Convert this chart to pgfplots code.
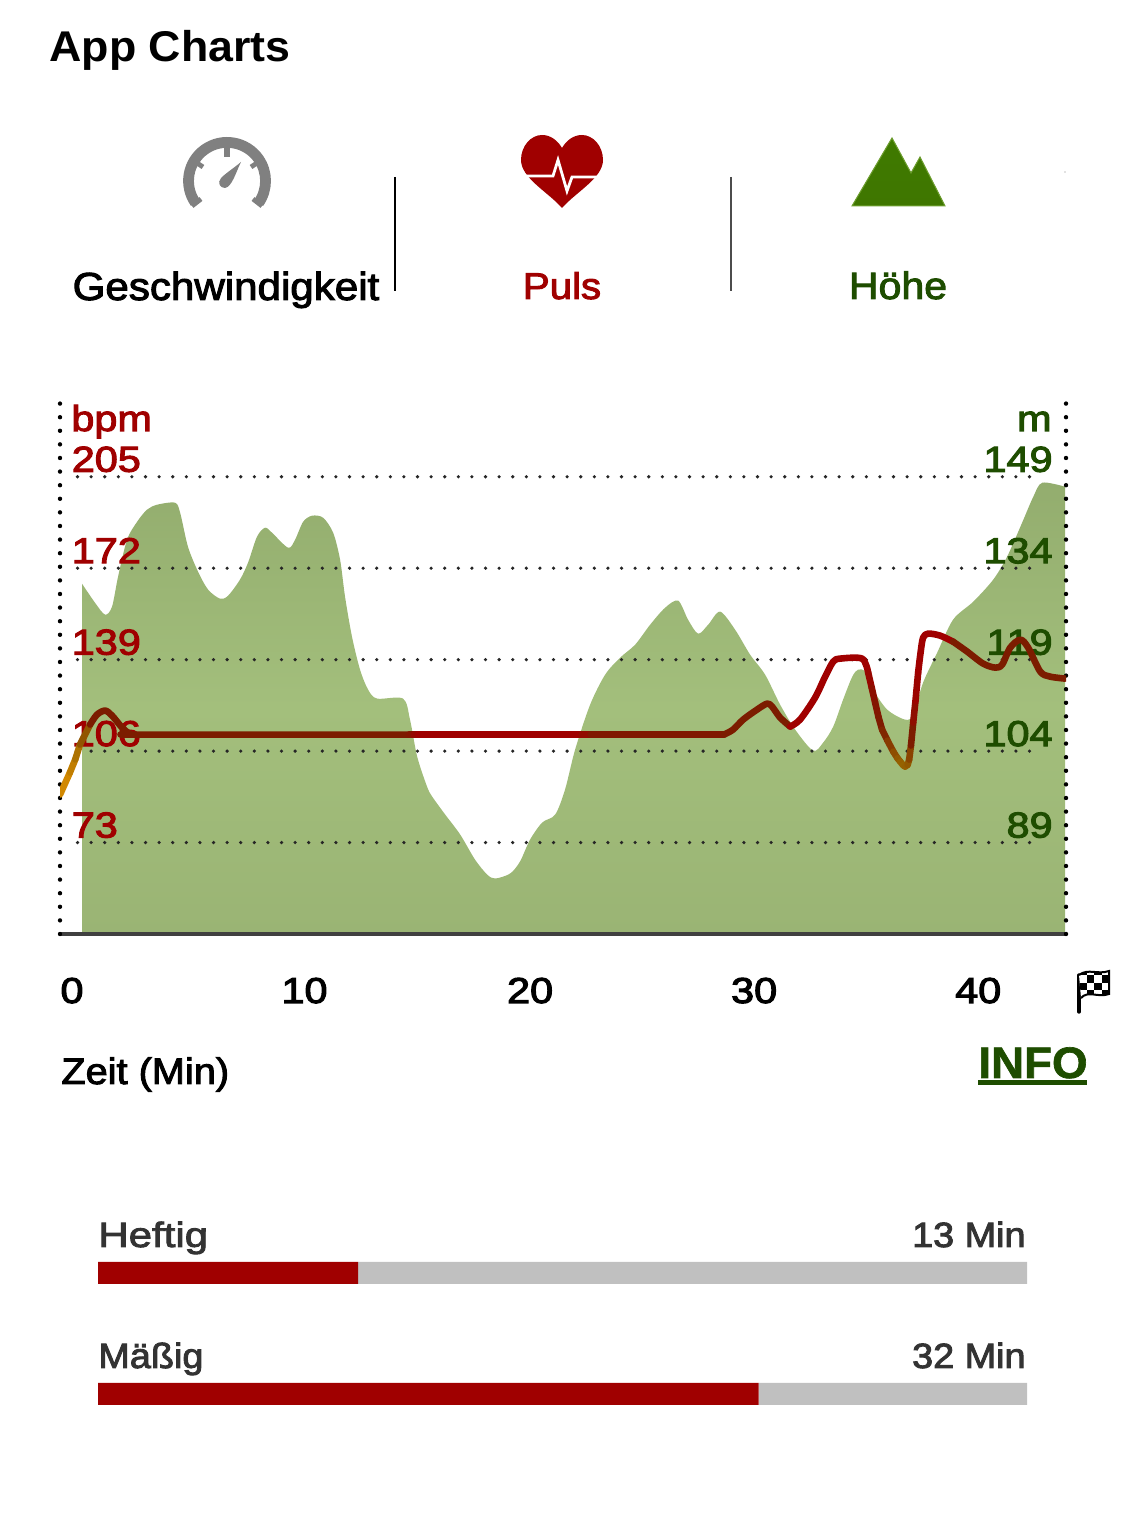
\documentclass[border=0pt]{standalone}
\usepackage{pgfplots}
\pgfplotsset{compat=1.18}
\usepackage{fontspec}
\setmainfont{Liberation Sans}
\newfontfamily\med{Liberation Sans}[FakeBold=2.6,FakeStretch=1.08]
\newfontfamily\medw{Liberation Sans}[FakeBold=2.6,FakeStretch=1.2]
\newfontfamily\numf{Liberation Sans}[FakeBold=3,FakeStretch=1.15]
\newfontfamily\bld{Liberation Sans Bold}[FakeStretch=1.04]
\newfontfamily\bldx{Liberation Sans Bold}[FakeBold=1.5,FakeStretch=1.04]
\definecolor{hr}{HTML}{A00000}
\definecolor{hg}{HTML}{1E4D00}
\definecolor{HTMLa}{HTML}{93AD6E}
\definecolor{HTMLb}{HTML}{A3BF7C}
\definecolor{HTMLc}{HTML}{9AB474}
\definecolor{gb}{HTML}{C0C0C0}
\definecolor{gaugeg}{HTML}{808080}
\definecolor{mta}{HTML}{3F7A00}
\definecolor{mtb}{HTML}{3F7600}
\definecolor{mtc}{HTML}{6FA030}
\definecolor{tx}{HTML}{333333}
\definecolor{ld}{RGB}{124,28,0}
\pgfplotsset{
  colormap={lc}{rgb255(0cm)=(216,140,0) rgb255(1cm)=(150,100,0) rgb255(2cm)=(124,28,0) rgb255(3cm)=(160,0,0)},
  chartaxis/.style={
    at={(30pt,298.5pt)},anchor=south west,width=503pt,height=265.5pt,scale only axis,
    xmin=-0.982,xmax=43.92,
    xtick=\empty,
    major tick length=0pt,
    axis x line*=bottom,
    /pgf/number format/assume math mode=true,
    /pgf/number format/1000 sep={},
    tick label style={font=\numf\fontsize{18}{18}\selectfont,inner sep=0pt},
    y axis line style={black,line cap=round,dash pattern=on 0pt off 6.8pt,line width=2.2pt},
  },
  pulse/.style={line width=3.3pt,line cap=round,line join=round,smooth,tension=0.5,#1},
  pulsemesh/.style={mesh,point meta=explicit,line width=3.3pt,line cap=round},
}
\begin{document}
\begin{tikzpicture}
\path (0,0) rectangle (562.5pt,765.5pt);
% elevation axis (m)
\begin{axis}[chartaxis,axis on top,
  ymin=74,ymax=161.1,
  axis y line*=right,
  x axis line style={color=black!75,line width=1.6pt},
  ytick={89,104,119,134,149},
  y tick label style={anchor=base east,xshift=-6.5pt,yshift=2.5pt,text=hg},
]
\addplot[draw=none,smooth,tension=0.5,top color=HTMLa,bottom color=HTMLc,middle color=HTMLb] coordinates {
(0,131.46)(0.58,128.34)(1.03,126.38)(1.34,127.69)(1.61,132.61)(2.01,138.67)(2.46,141.62)(2.90,143.59)(3.35,144.41)(4.15,144.74)(4.38,143.10)(4.73,137.52)(5.18,133.43)(5.63,130.48)(6.16,129.00)(6.52,129.49)(7.05,132.12)(7.41,134.90)(7.81,139.16)(8.17,140.64)(8.48,139.82)(9.20,137.36)(9.51,138.67)(9.87,141.62)(10.27,142.61)(10.76,142.28)(11.21,139.82)(11.52,135.39)(11.74,129.33)(12.05,122.77)(12.41,117.36)(12.77,114.08)(13.17,112.61)(14.33,112.61)(14.64,109.16)(14.96,103.10)(15.40,98.18)(15.63,96.54)(16.21,93.59)(16.88,90.31)(17.54,86.21)(18.08,83.76)(18.44,83.10)(19.11,83.92)(19.55,85.89)(20.00,89.49)(20.54,92.28)(21.12,93.59)(21.56,97.69)(22.01,104.25)(22.68,111.62)(23.35,116.54)(24.02,119.33)(24.69,121.46)(25.36,124.74)(26.03,127.53)(26.61,128.67)(27.05,125.56)(27.50,123.26)(27.95,124.74)(28.48,126.87)(29.15,123.92)(29.82,119.82)(30.49,116.54)(31.16,111.62)(31.83,107.53)(32.63,104.08)(33.08,105.39)(33.53,108.02)(33.97,112.44)(34.38,116.21)(34.64,117.36)(34.96,117.03)(35.31,114.08)(35.94,110.80)(36.74,109.16)(37.10,109.98)(37.54,115.23)(38.17,120.15)(38.88,125.56)(39.78,128.51)(40.67,132.12)(41.29,135.89)(41.96,141.46)(42.46,145.72)(42.86,148.02)(43.88,147.36)} \closedcycle;
\pgfplotsinvokeforeach{89,104,119,134,149}{
\addplot[black!85,line width=1.8pt,line cap=round,dash pattern=on 0pt off 6.8pt] coordinates {(-0.2,#1)(42.8,#1)};
}
\end{axis}
% pulse axis (bpm)
\begin{axis}[chartaxis,
  ymin=40,ymax=231.6,
  axis y line*=left,
  x axis line style={draw=none},
  xtick={0,10,20,30,40},
  xticklabels={\hspace{-10pt}0,\hspace{-1.5pt}10,20,30,40},
  x tick label style={anchor=base,yshift=-34.5pt,text=black},
  ytick={73,106,139,172,205},
  y tick label style={anchor=base west,xshift=5.7pt,yshift=2.5pt,text=hr},
  colormap name=lc,point meta min=0,point meta max=3,
]
\addplot[pulsemesh] table[meta=c] {
x y c
-0.98 90.31 0
-0.54 98.24 0.2
-0.30 103.0 0.5
-0.09 108.34 0.8
0.36 115.56 1.6
};
\addplot[pulse=ld] coordinates {(0.36,115.56)(0.67,119.16)(1.03,120.61)(1.34,118.8)(1.79,114.47)(2.14,112.31)(2.59,111.95)(14.6,111.95)};
\addplot[pulsemesh] table[meta=c] {
x y c
14.6 111.95 2
14.8 111.95 2.4
15.0 111.95 3
22.3 111.95 3
22.7 111.95 2.2
28.66 111.95 2
};
\addplot[pulse=ld] coordinates {(28.66,111.95)(29.06,113.75)(29.51,117.36)(30.13,120.97)(30.58,123.13)(30.80,122.05)(31.16,118.08)(31.61,114.83)};
\addplot[pulse=hr] coordinates {(31.61,114.83)(32.05,117.36)(32.72,125.29)(33.17,132.87)(33.53,138.28)(33.84,139.36)(34.82,139.36)(35.09,134.31)};
\addplot[pulsemesh] table[meta=c] {
x y c
35.09 134.31 2.9
35.25 128.8 2.6
35.40 123.49 2.3
35.55 118.3 2.1
35.71 113.75 2
35.95 109.8 1.7
36.21 105.82 1.4
36.40 103.4 1.2
36.52 102.21 1.1
36.65 100.9 1
36.74 100.41 1
36.85 101.0 1.1
36.92 102.93 1.2
37.00 108.0 1.7
37.10 116.28 2.3
37.20 124.0 2.7
37.32 134.31 3
};
\addplot[pulse=hr] coordinates {(37.32,134.31)(37.42,141.0)(37.54,146.93)(37.77,148.38)(38.30,147.66)(38.88,145.49)};
\addplot[pulse=ld] coordinates {(38.88,145.49)(39.51,141.88)(40.22,137.56)(40.76,136.11)(41.07,137.2)(41.43,143.33)(41.88,146.21)(42.23,143.33)(42.77,134.67)(43.21,132.87)(43.88,132.15)};
\end{axis}
% minute bars
\begin{axis}[at={(49pt,63pt)},anchor=south west,width=464.5pt,height=71.5pt,scale only axis,
  hide axis,xbar stacked,bar width=11pt,xmin=0,xmax=45,ymin=-0.0909,ymax=1.0909]
\addplot[fill=hr,draw=none] coordinates {(12.6,1)(32,0)};
\addplot[fill=gb,draw=none] coordinates {(32.4,1)(13,0)};
\end{axis}
% page furniture in pixel units
\begin{scope}[x=0.5pt,y=-0.5pt,yshift=765.5pt]
\node[anchor=base west,inner sep=0pt] at (49,62) {\bld\fontsize{21.5}{22}\selectfont App Charts};
\node[anchor=base,inner sep=0pt] at (226,300) {\med\fontsize{19.5}{20}\selectfont Geschwindigkeit};
\node[anchor=base,inner sep=0pt,text=hr] at (562,299) {\med\fontsize{18.6}{20}\selectfont Puls};
\node[anchor=base,inner sep=0pt,text=hg] at (898,299) {\med\fontsize{19}{20}\selectfont Höhe};
\draw[black,line width=1.25pt] (395,177)--(395,291);
\draw[black!70,line width=1.25pt] (731,177)--(731,291);
\fill[black!50] (1065,172) circle (0.6);
% gauge
\draw[gaugeg,line width=5.4pt] (195.5,203) arc (145:395:38.5);
\fill[gaugeg] (224,146) rectangle (230,157);
\draw[gaugeg,line width=2.4pt] (197,163)--(203,167) (257,163)--(251,167);
\draw[gaugeg,line width=2.4pt] (192,206)--(201,199) (262,206)--(253,199);
\fill[gaugeg] (241,162) .. controls (236,172) and (232,187) .. (225,188) .. controls (220,188) and (217,183) .. (221,178) .. controls (226,173) and (234,168) .. (241,162) -- cycle;
% heart
\fill[hr] (562,208) .. controls (548,192) and (521,178) .. (521,160) .. controls (521,146) and (531,135) .. (542,135) .. controls (551,135) and (558,141) .. (562,148) .. controls (566,141) and (573,135) .. (582,135) .. controls (593,135) and (603,146) .. (603,160) .. controls (603,178) and (576,192) .. (562,208) -- cycle;
\draw[white,line width=1.4pt,line join=miter] (522,176)--(553,176)--(558,160)--(567,191)--(572,177)--(602,177);
% mountain
\fill[top color=mta,bottom color=mtb,draw=mtc,line width=0.5pt] (852,206)--(892,138)--(911,173)--(920,157)--(945,206)--cycle;
% flag
\draw[black,line width=1.7pt,line cap=round] (1079,1012)--(1079,975);
\begin{scope}
\clip (1079,975) .. controls (1088,968) and (1098,975) .. (1109,971) -- (1109,994) .. controls (1098,998) and (1088,990) .. (1081,998) -- cycle;
\fill[white] (1070,965) rectangle (1115,1005);
\foreach \i in {0,...,3}{\foreach \j in {0,...,3}{
  \pgfmathparse{int(mod(\i+\j,2))}
  \ifnum\pgfmathresult=0 \fill[black] (1079+\i*7.5,968+\j*7.5) rectangle ++(7.5,7.5);\fi
}}
\end{scope}
\draw[black,line width=1pt] (1079,975) .. controls (1088,968) and (1098,975) .. (1109,971) -- (1109,994) .. controls (1098,998) and (1088,990) .. (1081,998);
% texts
\node[anchor=base west,inner sep=0pt] at (61,1084) {\med\fontsize{18.4}{20}\selectfont Zeit (Min)};
\node[anchor=base east,inner sep=0pt,text=hg] at (1088,1078) {\bldx\fontsize{22}{22}\selectfont INFO};
\draw[hg,line width=2.4pt] (978,1082.5)--(1087,1082.5);
\node[anchor=base west,inner sep=0pt,text=hr] at (71,431) {\numf\fontsize{18}{18}\selectfont bpm};
\node[anchor=base east,inner sep=0pt,text=hg] at (1052,431) {\numf\fontsize{18}{18}\selectfont m};
\node[anchor=base west,inner sep=0pt,text=tx] at (98,1247) {\medw\fontsize{17.5}{20}\selectfont Heftig};
\node[anchor=base east,inner sep=0pt,text=tx] at (1026,1247) {\med\fontsize{17.5}{20}\selectfont 13 Min};
\node[anchor=base west,inner sep=0pt,text=tx] at (98,1368) {\med\fontsize{17.5}{20}\selectfont Mäßig};
\node[anchor=base east,inner sep=0pt,text=tx] at (1026,1368) {\med\fontsize{17.5}{20}\selectfont 32 Min};
\end{scope}
\end{tikzpicture}
\end{document}
